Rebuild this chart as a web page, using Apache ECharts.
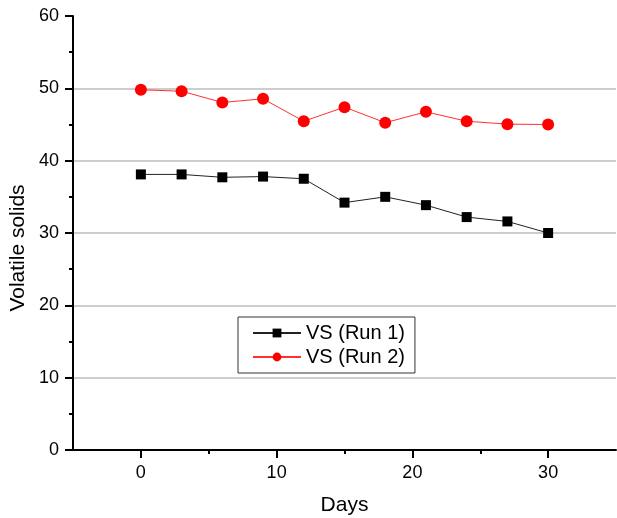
<!DOCTYPE html>
<html>
<head>
<meta charset="utf-8">
<script src="https://cdn.jsdelivr.net/npm/echarts@6/dist/echarts.min.js"></script>
<style>
  html, body { margin: 0; padding: 0; background: #fff; }
  #chart1 { width: 617px; height: 518px; }
</style>
</head>
<body>
<div id="chart1"></div>
<script>
// data
var days = [0, 3, 6, 9, 12, 15, 18, 21, 24, 27, 30];
var run1 = [38.1, 38.1, 37.7, 37.8, 37.5, 34.2, 35.0, 33.85, 32.2, 31.6, 30.0];
var run2 = [49.8, 49.6, 48.05, 48.55, 45.45, 47.4, 45.25, 46.75, 45.45, 45.05, 45.0];
var xMajor = [0, 10, 20, 30];
var xMinor = [5, 15, 25];

function pairs(xs, ys) {
    return xs.map(function (x, i) { return [x, ys[i]]; });
}

var chartDom = document.getElementById('chart1');
var myChart = echarts.init(chartDom);
var option;

var font = 'Liberation Sans, Arial, sans-serif';

option = {
    backgroundColor: '#fff',
    animation: false,
    grid: {left: 73, right: 1, top: 16, bottom: 68, outerBoundsMode: 'none'},
    // y axis title sits a bit below the middle in the original
    graphic: [{
        type: 'text',
        x: 8,
        y: 248,
        rotation: Math.PI / 2,
        style: {
            text: 'Volatile solids',
            fontFamily: font,
            fontSize: 21,
            fill: '#000',
            align: 'center',
            verticalAlign: 'top'
        }
    }],
    legend: {
        orient: 'vertical',
        left: 238,
        top: 317,
        borderColor: '#333',
        borderWidth: 1,
        padding: [6, 10, 6, 14],
        itemWidth: 48,
        itemHeight: 11,
        itemGap: 4,
        textStyle: {fontFamily: font, fontSize: 20, color: '#000'},
        data: ['VS (Run 1)', 'VS (Run 2)']
    },
    xAxis: [
        {
            type: 'value',
            min: -5,
            max: 35,
            name: 'Days',
            nameLocation: 'middle',
            nameGap: 45,
            nameTextStyle: {fontFamily: font, fontSize: 21, color: '#000'},
            axisLine: {onZero: false, lineStyle: {color: '#000', width: 2}},
            axisTick: {show: true, length: 8, customValues: xMajor, lineStyle: {color: '#000', width: 2}},
            axisLabel: {customValues: xMajor, margin: 14, fontFamily: font, fontSize: 18, color: '#000'},
            splitLine: {show: false}
        },
        {
            type: 'value',
            min: -5,
            max: 35,
            position: 'bottom',
            axisLine: {show: false, onZero: false},
            axisTick: {show: true, length: 4, customValues: xMinor, lineStyle: {color: '#000', width: 2}},
            axisLabel: {show: false},
            splitLine: {show: false}
        }
    ],
    yAxis: {
        type: 'value',
        min: 0,
        max: 60,
        interval: 10,
        axisLine: {show: true, onZero: false, lineStyle: {color: '#000', width: 2}},
        axisTick: {show: true, length: 8, lineStyle: {color: '#000', width: 2}},
        minorTick: {show: true, splitNumber: 2, length: 4, lineStyle: {color: '#000', width: 2}},
        axisLabel: {margin: 14, fontFamily: font, fontSize: 18, color: '#000'},
        splitLine: {show: true, showMaxLine: false, lineStyle: {color: '#bdbdbd', width: 1.5}}
    },
    series: [
        {
            name: 'VS (Run 1)',
            type: 'line',
            data: pairs(days, run1),
            symbol: 'rect',
            symbolSize: 10,
            itemStyle: {color: '#000'},
            lineStyle: {color: '#222', width: 1}
        },
        {
            name: 'VS (Run 2)',
            type: 'line',
            data: pairs(days, run2),
            symbol: 'circle',
            symbolSize: 12,
            itemStyle: {color: '#ff0000'},
            lineStyle: {color: '#ff3030', width: 1}
        }
    ]
};

option && myChart.setOption(option);
</script>
</body>
</html>
